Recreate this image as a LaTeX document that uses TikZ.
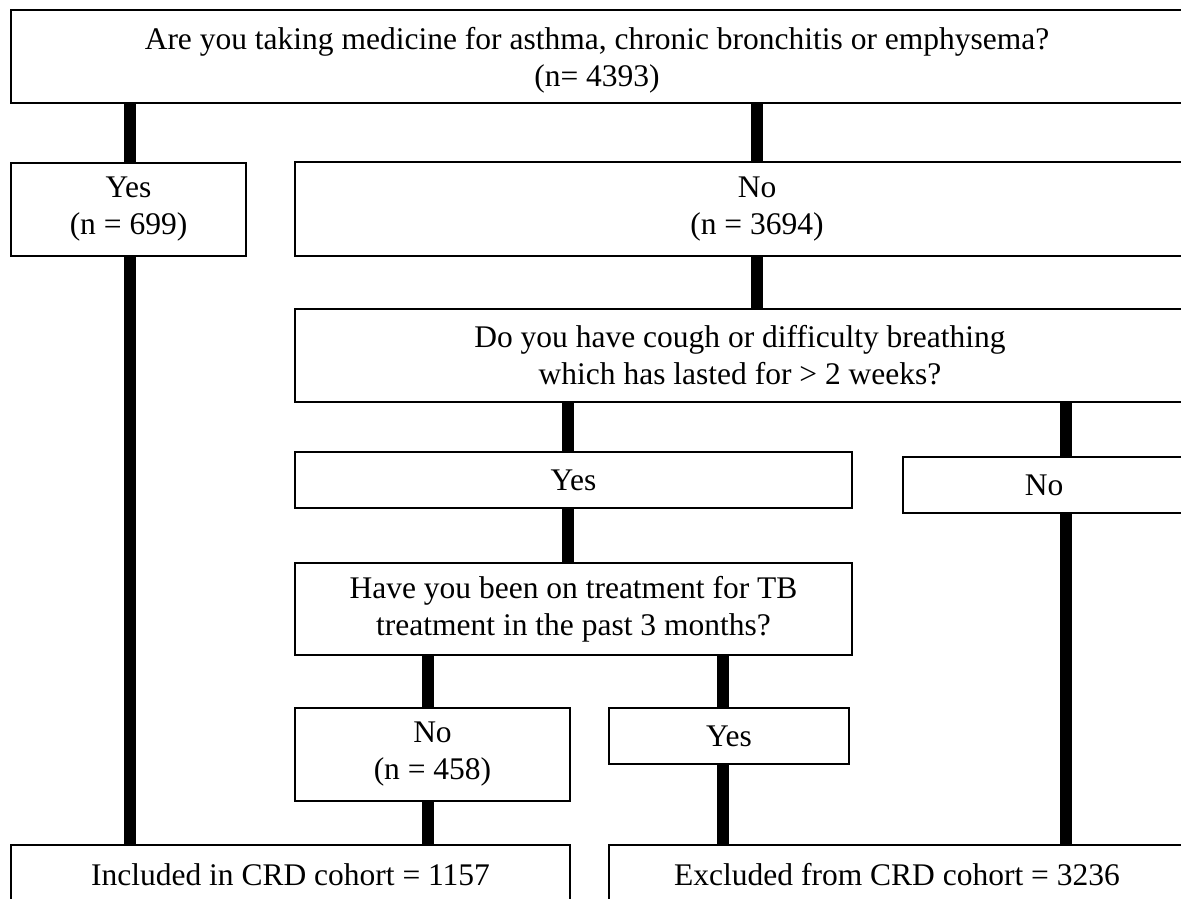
\documentclass[tikz,border=0pt]{standalone}
\usepackage{fontspec}
\setmainfont{Liberation Serif}
\begin{document}
\begin{tikzpicture}[x=1pt,y=-1pt,
  box/.style={draw, line width=1.6pt, fill=white, inner sep=0pt, align=center,
    font=\fontsize{31.5}{37}\selectfont},
  bar/.style={line width=11.5pt}]
\fill[white] (0,0) rectangle (1181,898);
\clip (0,0) rectangle (1181,898);
% boxes
\node[box, minimum width=1172pt, minimum height=93pt, text depth=0pt] (top) at (597,56.5)
  {Are you taking medicine for asthma, chronic bronchitis or emphysema?\\(n= 4393)};
\node[box, minimum width=235pt, minimum height=93pt] (yes1) at (128.5,209.5) {Yes\\(n = 699)};
\node[box, minimum width=924pt, minimum height=94pt] (no1) at (757,209) {No\\(n = 3694)};
\node[box, minimum width=890pt, minimum height=93pt] (cough) at (740,355.5)
  {Do you have cough or difficulty breathing\\which has lasted for > 2 weeks?};
\node[box, minimum width=557pt, minimum height=56pt] (yes2) at (573.5,480) {Yes};
\node[box, minimum width=282pt, minimum height=56pt] (no2) at (1044,485) {No};
\node[box, minimum width=557pt, minimum height=92pt] (tb) at (573.5,609)
  {Have you been on treatment for TB\\treatment in the past 3 months?};
\node[box, minimum width=275pt, minimum height=93pt] (no3) at (432.5,754.5) {No\\(n = 458)};
\node[box, minimum width=240pt, minimum height=56pt] (yes3) at (729,736) {Yes};
\node[box, minimum width=559pt, minimum height=60pt] (incl) at (290.5,875) {Included in CRD cohort = 1157};
\node[box, minimum width=576pt, minimum height=60pt] (excl) at (897,875) {Excluded from CRD cohort = 3236};
% x positions of the bars
\coordinate (xa) at (130,0);
\coordinate (xb) at (757,0);
\coordinate (xc) at (568,0);
\coordinate (xd) at (1066,0);
\coordinate (xe) at (428,0);
\coordinate (xf) at (723,0);
% bars
\draw[bar] (top.south -| xa) -- (yes1.north -| xa);
\draw[bar] (yes1.south -| xa) -- (incl.north -| xa);
\draw[bar] (top.south -| xb) -- (no1.north -| xb);
\draw[bar] (no1.south -| xb) -- (cough.north -| xb);
\draw[bar] (cough.south -| xc) -- (yes2.north -| xc);
\draw[bar] (yes2.south -| xc) -- (tb.north -| xc);
\draw[bar] (cough.south -| xd) -- (no2.north -| xd);
\draw[bar] (no2.south -| xd) -- (excl.north -| xd);
\draw[bar] (tb.south -| xe) -- (no3.north -| xe);
\draw[bar] (no3.south -| xe) -- (incl.north -| xe);
\draw[bar] (tb.south -| xf) -- (yes3.north -| xf);
\draw[bar] (yes3.south -| xf) -- (excl.north -| xf);
\end{tikzpicture}
\end{document}
